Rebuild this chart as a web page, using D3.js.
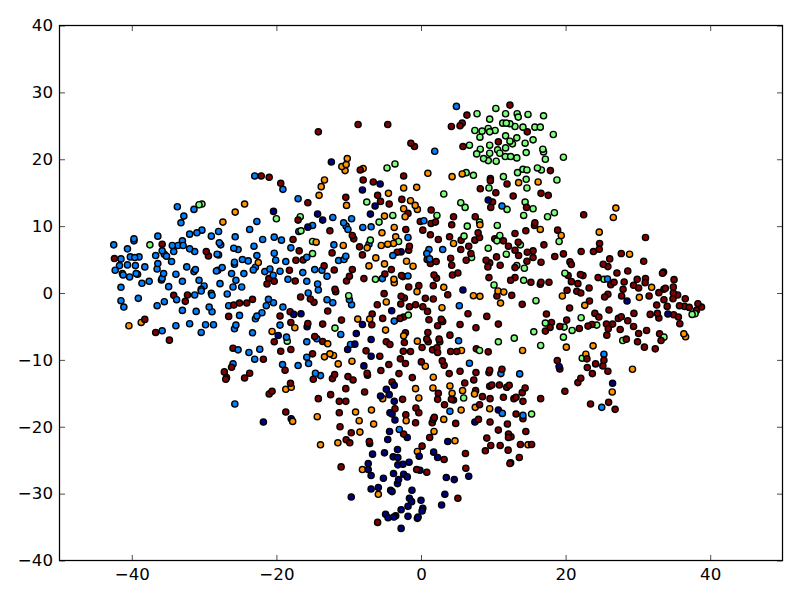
<!DOCTYPE html>
<html><head><meta charset="utf-8">
<script src="https://cdnjs.cloudflare.com/ajax/libs/d3/7.8.5/d3.min.js"></script>
<style>html,body{margin:0;padding:0;background:#fff}svg{display:block}</style></head>
<body><svg id="c" width="800" height="600"></svg>
<script>
const xTicks=[-40,-20,0,20,40];
const yTicks=[-40,-30,-20,-10,0,10,20,30,40];
const classColors=["#00007f","#007fff","#7dff7a","#ff9400","#7f0000"];
const class0=[[-21.8,-19.3],[-12.4,19.6],[-5.65,16.3],[-8.1,15.4],[-6.35,13],[-20.4,12.2],[-14.3,11.8],[-13.6,10.9],[-7,11.8],[-15.65,9.85],[-2.75,6.15],[-16.6,-3.1],[-17.6,-3.2],[-15.75,-5.05],[-19.75,-6.35],[-8.1,-4.7],[-4.05,-2.65],[-8.95,-6.05],[-6.9,-6.95],[-9.15,-7.65],[-10.15,-8.45],[-6.9,-9.45],[-7.9,-10.9],[-3.7,-13.8],[-4.8,-14.4],[-4.4,-15.2],[-5.6,-15.4],[-3.7,-16.2],[-4.3,-17.9],[-4,-18.1],[-3.6,-19],[-4.35,-20.7],[-1.9,-21.6],[-4.6,-21.9],[-17.95,-18.8],[-3.25,-23.4],[-6.7,-24.1],[-5.05,-23.9],[-3.85,-24.5],[-3.2,-24.6],[-0.25,-24.4],[-7.3,-25.5],[-7.3,-26.4],[-6.9,-27.3],[-3.2,-25.7],[-2.5,-25.6],[-1.65,-25.3],[-3.8,-27],[-2.4,-27.1],[-1.9,-27.5],[-5.2,-27.7],[-3.1,-27.9],[-3.25,-28.5],[-6.9,-29.3],[-5.9,-29.1],[-9.65,-30.5],[-4.2,-29.5],[-4,-29.7],[-1.25,-29.5],[-1.6,-30.7],[-1.3,-31.2],[0,-31],[-1.8,-31.9],[-2.75,-32.4],[0.25,-32.2],[0.15,-32.6],[-4.9,-33.1],[-4.55,-33.6],[-3.75,-33.5],[-3.5,-33.3],[-1.8,-33.4],[-0.4,-33.5],[-0.5,-33.7],[-2.75,-35.2],[3.5,-27.6],[4.6,-27.9],[6.6,-27.4],[3.3,-30.1],[2.85,-31.7],[-0.15,-26.5],[5.8,0.45],[4.5,-16],[10.7,-17.5],[7.45,-19.3],[3.7,-22.2],[1.75,-23.8],[2.3,-24.6],[9.3,13.9],[28.5,-1.2],[34.15,-3.15],[19.1,-11],[26.5,-13.5]];
const class1=[[-23,17.5],[-33.7,12.9],[-31.4,12.5],[-32.8,11.5],[-33.2,10.5],[-22.7,10.7],[-23.7,9.5],[-30.3,9.4],[-31,9],[-32,8.8],[-28,9.2],[-29,8.5],[-25.7,8.4],[-21.9,8],[-36.4,8.5],[-39.7,8.1],[-39.7,7.8],[-42.5,7.2],[-40.6,6.6],[-34.4,7.1],[-33.6,7.1],[-32.9,7.1],[-33,7.8],[-27.9,7.5],[-27.7,7.2],[-23.1,7],[-32,6.6],[-31.3,6.2],[-25.9,6.7],[-25.3,6.5],[-35.8,6.3],[-34.2,6.2],[-36.7,5.6],[-35.5,5.8],[-35.2,5.5],[-28.2,5.8],[-28,5.7],[-22.7,5.6],[-40.2,5.4],[-39.6,5.3],[-39,5.4],[-41.5,5.1],[-34.5,4.7],[-36.4,4.4],[-41.7,4.1],[-40.6,4.2],[-39.5,4.1],[-38.2,3.9],[-42.3,3.4],[-36.5,3.6],[-32.4,3.9],[-31.2,3.5],[-31.4,3.2],[-33.9,2.8],[-35.6,2.9],[-41.3,2.9],[-41.2,2.7],[-39.4,2.9],[-39.2,2.8],[-40.3,2.4],[-35.8,2.2],[-35.9,1.95],[-37.6,1.75],[-38.6,1.45],[-33,1.75],[-30.7,1.9],[-30,1.05],[-30.4,0.55],[-34.9,0.95],[-41.5,0.85],[-27.5,3.8],[-28.3,3.3],[-28.1,3.4],[-25.8,4.6],[-25.8,4.3],[-24.7,5],[-23.9,4.8],[-22.9,3.85],[-23.2,3.45],[-20.9,3.6],[-21.6,3.2],[-26.2,2.9],[-24.5,2.9],[-25.6,1.9],[-27.8,1.4],[-26,0.9],[-24.8,0.9],
[-41.5,-1.15],[-41.1,-2.1],[-39.1,-0.8],[-36.5,-1.9],[-35.5,-1.3],[-33.8,-1],[-31.3,-0.3],[-30.4,0.3],[-29,-0.05],[-28.9,-0.35],[-26.8,-0.15],[-33,-2.6],[-31.1,-2.75],[-29.3,-2.1],[-28.9,-2.8],[-26.6,-1.9],[-21.4,-1.9],[-21.1,-0.95],[-22,-2.95],[-25.1,-3.35],[-22.7,-3.45],[-22.9,-3.85],[-33.9,-4.9],[-32,-4.6],[-35.8,-5.65],[-29.8,-4.75],[-28.7,-4.75],[-30.4,-5.9],[-25.6,-4.8],[-25.8,-5.35],[-23.3,-5.95],[-25.3,-8.5],[-23.8,-8.9],[-22.3,-8.4],[-23,-9.9],[-26,-10.6],[-25.75,-16.6],
[-17,14.1],[-19.1,15.5],[-12.2,11.3],[-9.6,11.1],[-10.7,10.5],[-10.35,10],[-10.1,9.5],[-15,10.1],[-16.9,9.2],[-8.05,9.8],[-6.9,9.9],[-19.3,7.9],[-20.3,8.35],[-18,6.75],[-20.3,5.95],[-20.1,4.9],[-18.7,4.7],[-15.8,5.35],[-12.05,7.2],[-7.2,7.3],[-1.8,8.3],[-3.9,5.6],[-10.4,5.5],[-10.65,5],[-11.4,4.85],[-14.7,3.5],[-13.7,3.4],[-16.35,3.05],[-19.5,3.25],[-20.45,2.65],[-13,2.5],[-18.4,2.05],[-15.8,1.75],[-14.3,1.35],[-5.35,2.15],[-1.8,2.55],
[-15.6,0],[-14.2,0.45],[-13,-1],[-12.2,-1.45],[-9.9,-1],[-9.6,-1.75],[-19.1,-2.1],[-20.4,-1.45],[-19.5,-4.8],[-18.6,-6.6],[-15.8,-7.3],[-14.4,-6.85],[-11.1,-6.2],[-9.75,-7.7],[-15.8,-9.6],[-15.55,-10.55],[-19.15,-10.7],[-17,-10.85],[-14.6,-12],[-13.9,-12.35],[-3.7,-4.2],[-3,-20.4],
[5.3,-1.9],[5.2,-7.15],[6.7,-10.5],[11.05,-12.05],[13.65,-12.1],[4,-17.7],[11.25,-18],[14.1,-18.3],[4.9,27.9],[1.9,21.2],[11.2,13],[0.4,10.8],[1.1,6.5],[0.8,5.9],[3,6.5],[1.2,5.1],[25.8,2.1],[25.3,-9.15],[25,-17.1]];
const class2=[[-30.7,13.2],[-30.3,13.3],[-37.5,7.2],[-3.6,19.3],[-4.7,18.7],[-7.5,13.6],[-16.7,11.4],[-20,11.1],[-5.8,10.6],[-3.9,11.6],[-16.6,9.3],[-15,7.7],[-7,7.9],[-3.1,7.7],[-15,5.9],[-6.3,2.05],[-10,-0.4],[-11.9,-5.25],[-18.5,-7.2],[-1.75,-3.3],[15.9,-1.15],[17.2,-4.5],[15.6,-5.8],[12.9,-6.75],[10.7,-7.3],[16.55,-7.85],[8.1,-8.6],[5.9,-15.7],[15.3,-18.1],
[10.35,27.6],[7.75,26.8],[9.5,26],[11.7,26.8],[13.3,26.8],[13.45,26.3],[14.8,26.7],[16.95,26.5],[11.3,25.4],[11.8,25.4],[12.3,25.3],[13,24.9],[14.1,24.8],[15.75,24.8],[16.5,24.8],[7.45,24.3],[8.45,24.2],[9.3,24.6],[9.5,24.1],[10.25,24.3],[8.15,23.3],[11.7,23.5],[18.3,23.7],[13.25,23.2],[12.3,22.7],[12.65,22.3],[14.4,22.4],[15.5,22.9],[6.7,22.1],[9.5,22.1],[8.2,21.5],[11.7,21.7],[10.6,21.4],[10.9,20.9],[9.5,20.9],[7.7,20.8],[14.55,21],[16.85,21.5],[16.95,21.1],[11.65,20.4],[12.4,20.4],[13.25,20.2],[8.65,20.1],[9.3,19.8],[10.4,19.7],[17.2,20],[19.7,20.3],[16.1,18.7],[16.65,18.4],[14.1,18.5],[14.65,18.4],[13.35,18],[6.25,18],[7.25,17.6],[11.4,17.4],[14.55,17],[18.8,16.9],[14.65,15.7],[9.4,15.7],[3.15,14.8],[5.5,13.5],[6.1,12.8],[11.9,12.5],[14.4,13.6],[15.5,12.6],[14.2,11.6],[17.5,11.4],[2.2,11.6],[8.1,10.6],[6.4,10],[10.55,10.1],[5.95,8.5],[10.9,8.6],[10.5,7.8],[13.75,7.2],[9.3,6.7],[11.8,5.8],[7,5.3],[13.25,4.1],[14.3,3.7],[14.2,1.9],[10.1,1.2],
[18.45,12],[19.1,7.7],[19.9,2.95],[25.3,2.05],[22.15,-3.7],[19.8,-5.1],[20.9,-5.6],[24.3,-4.8],[19.7,-6.6],[27.9,-7.1],[33.6,-6.6],[37.9,-3.1],[37.5,-3.2],[22.3,-9.75]];
const class3=[[-24.4,13.3],[-25.7,12.1],[-27.4,10.6],[-22.5,4.55],[-40.4,-4.9],[-38.7,-4.4],[-10.2,20.1],[-10.35,19.2],[-10.95,18.9],[-10.5,18.3],[-8,18.6],[-13.35,16.9],[-13.8,15.9],[-14.1,14.6],[-10.3,13.1],[-4.5,14.9],[-2.4,15.7],[-0.6,15.8],[-1.45,13.8],[-0.8,13.1],[-0.5,12.5],[-2.4,12.6],[-2.2,11.4],[-5.05,11.5],[-3.7,9.8],[-5.4,9],[-3.5,8.4],[-3.8,7.4],[-4.6,7.3],[-5.5,7.1],[-7.45,6.75],[-10.75,7.1],[-14.5,7.6],[-6.25,5.25],[-2,4.75],[-1.1,4],[-5.05,4.35],[-7.2,4.05],[-3.75,2.05],[-3.7,1.55],
[-4.8,-1.35],[-0.55,0.2],[-8.75,-3.9],[-7.1,-3.9],[-20.6,-5.75],[-17.45,-5.2],[-4.9,-5.55],[-2.4,-6.4],[-0.5,-7.2],[-12.9,-7.6],[-12.6,-9.1],[-12.1,-9.35],[-13.35,-9.55],[-11.45,-10.6],[-9.55,-10.2],[-18.7,-14.4],[-17.95,-14.1],[-5.3,-15.8],[-0.75,-14.3],[-0.3,-15.7],[-9.05,-17.8],[-6.85,-17.5],[-8.55,-19.1],[-6.55,-19.6],[-14.35,-18.5],[-17.75,-19.2],[-8.45,-20.8],[-11.5,-22.4],[-13.9,-22.7],[-2.05,-19.1],[-0.5,-23.7],[-8.1,-26.4],[-5.9,-30.1],
[7.25,-0.4],[8.15,-0.5],[11.45,0.15],[10.65,0.3],[11,-1.5],[2.9,-2.2],[5.6,-8.6],[14.05,-8.6],[0.6,-10.95],[1.7,-12.6],[1.65,-14.2],[4,-13.9],[5.75,-14.6],[4.3,-15],[7.4,-15.1],[7.5,-17.1],[5.55,-17.5],[9.5,-17.3],[3.15,-18.9],[1.8,-20.7],[4.7,-22.1],[14.8,-22.7],[0.95,17.9],[4.3,17.4],[5.7,17.8],[13.5,16.5],[16.2,16.6],[8.15,10.2],[4.5,7.4],[16.5,9.5],[3.15,0.85],
[26.95,12.7],[26.6,11.3],[24.65,9.1],[19.4,8.6],[28.85,5.8],[31.9,0.85],[19.55,-0.45],[30.2,-0.65],[22.65,-1.85],[36.35,-6.1],[36.6,-6.55],[23.8,-7.9],[20.1,-8.1],[22.8,-9.15],[29.25,-11.4],[26.45,-14.8]];
const class4=[[-22.1,17.5],[-21,17.3],[-35.8,7.3],[-42.4,5.15],[-29.7,6.2],[-29.4,5.55],[-21.05,2.15],[-21.3,1.35],[-34.2,-0.35],[-32.3,-0.3],[-32.6,-1.25],[-25.9,-1.8],[-25.1,-1.5],[-24.1,-1.5],[-23.3,-0.95],[-26.6,-3.5],[-38.2,-3.95],[-36.7,-5.9],[-34.8,-7.05],[-26,-8.25],[-21.8,-9.9],[-26.2,-11.1],[-27.2,-11.8],[-26.9,-12.65],[-27,-12.9],[-23.7,-12],[-24.4,-12.7],[-21,-15.1],
[-8.7,25.2],[-4.6,25.2],[-14.2,24.1],[-1.4,22.4],[-0.9,21.9],[-19.4,16.4],[-8.4,18.4],[-8,16.9],[-6.6,16.6],[-2.4,17.5],[-6,14.6],[-5.6,13.7],[-4.4,13.3],[-2.65,14],[-10.4,14.3],[-15.65,13.5],[-1.8,11.9],[-17,10.9],[-0.1,10.7],[-12.6,9.3],[-2.1,9.5],[-17.7,8],[-9.5,8.6],[-9.3,8.1],[-8.5,6.9],[-16.85,6.3],[-12.3,6],[-8.1,5.7],[-17.3,4.9],[-16.3,4.95],[-1.6,7],[-1.7,6.4],[-3.3,6.1],[-18.2,3.4],[-13.4,4.05],[-12,3.45],[-9.5,3.5],[-9.9,2.5],[-10.3,1.8],[-4.1,3.5],[-5,2.85],[-7.9,2.15],[-2.5,2.45],[-2.7,2.6],[-20.3,1.75],[-17.4,1.8],[-1.7,0.9],[-0.3,1.1],[-11.9,0.55],
[-16.65,-0.6],[-15.3,-0.9],[-14.8,-1.4],[-11.8,0.2],[-5.1,-0.1],[-6.05,-1.75],[-2.75,-0.5],[-2.3,-0.75],[-2.8,-1.65],[-1.6,-2.05],[-0.75,-1.75],[-18.1,-2.8],[-19.5,-3.45],[-12.9,-2.7],[-6.75,-3.15],[-5.3,-3.8],[-2.9,-3.8],[-2.4,-3.6],[-11,-4.05],[-6.8,-4.75],[-13.6,-4.65],[-18,-4.4],[-15.65,-4.55],[-14.7,-6.5],[-13.6,-7.25],[-2.15,-5.95],[-2.3,-7.4],[-4.8,-7.3],[-4.3,-7.7],[-20.3,-7.3],[-19.4,-8.7],[-18,-8.45],[-15,-9.1],[-7.6,-8.65],[-5.7,-9.45],[-2.45,-8.7],[-1.45,-8.75],[-2.85,-9.85],[-2.15,-10.55],[-4.45,-10.7],[-18.8,-11.55],[-5.55,-11.6],[-3.05,-12.05],[-7.45,-12],[-7.4,-12.3],[-1.2,-12.65],[-14.9,-12.9],[-11.95,-12.2],[-12.25,-12.8],[-10.1,-12.5],[-9.4,-13],[-18.05,-13.5],[-20.6,-14.7],[-10.4,-14.3],[-4,-13.3],[-7.8,-14.8],[-12.5,-15.2],[-14.2,-15.8],[-11.3,-16.2],[-10.4,-16.2],[-2.55,-15.9],[-3.6,-17.3],[-0.7,-17.2],[-0.3,-17.9],[-18.7,-17.8],[-11.3,-17.9],[-2.1,-18.2],[-0.75,-19.4],[-11.2,-20],[-9.65,-20.9],[-2.4,-21.1],[-10.35,-21.95],[-9.85,-22.4],[-7.15,-22.2],[-7.1,-22.5],[-11.05,-26],[-0.6,-26.4],[5.1,-30.7],[-6,-34.3],
[3.7,-0.25],[1.7,-0.9],[0.6,-0.8],[10.5,-0.45],[12.55,-0.35],[14,-1.7],[0.25,-2.05],[0.9,-2.75],[6.5,-3.1],[9.1,-3.5],[1.1,-4],[2.8,-3.95],[3,-4.25],[2.3,-4.9],[5.4,-4.7],[7.6,-5.2],[10.7,-4.65],[17.35,-3.15],[17.2,-5.7],[17.85,-5.15],[0.95,-5.9],[4,-6.3],[2.5,-6.9],[0.8,-6.9],[1,-7.3],[2.6,-7.3],[2.2,-8.2],[0.15,-8.15],[1.6,-8.5],[2.3,-8.9],[4.1,-8.75],[4.95,-8.75],[7.65,-8.35],[9.3,-8.8],[2.95,-10.15],[3.2,-10.8],[0.05,-10.3],[3.9,-12.05],[5.4,-11.7],[7.6,-11.9],[9.5,-11.55],[9.4,-11.9],[11.2,-11.4],[7.3,-13],[6.05,-13.45],[9.8,-13.75],[9.5,-13.95],[10.85,-13.75],[11.85,-14.1],[12.2,-13.8],[14.4,-14.2],[14,-14.9],[7.55,-14.6],[2.4,-15],[2.3,-15.9],[4.2,-15.9],[8.5,-15.5],[9.55,-15.8],[11.4,-15.6],[12.85,-15.8],[13.15,-15.6],[14.1,-16.2],[16.55,-15.8],[3.25,-16.7],[8.1,-16.7],[13.15,-18.1],[14.1,-18.8],[7.95,-18.9],[1.85,-18.6],[1.7,-18.9],[1.55,-19.4],[4.8,-19.5],[9.55,-19.3],[11.95,-19.6],[10.7,-20.5],[14.5,-20.7],[12.1,-21.1],[12.1,-21.6],[12.45,-21.5],[9.1,-21.7],[1.2,-21.6],[9.65,-22.8],[10.95,-22.8],[13.75,-22.65],[15.3,-22.65],[0.15,-22.9],[8.9,-23.6],[12.05,-23.5],[6.15,-24],[13.6,-24.6],[12.4,-25.4],[12.3,-25.5],[3.2,-24.9],[6.2,-26.2],[0.8,-26.8],
[12.3,28.1],[6.35,26.6],[4.2,24.9],[5.4,25],[5.7,25.4],[14.7,24.1],[5.8,21.9],[10.7,22.6],[17.9,18.3],[9.6,17.1],[9.6,16.8],[8.2,15.6],[11.9,16.3],[10.35,15],[12.75,14.5],[16.6,14.9],[17.6,14.6],[9.9,13.6],[9.65,12.8],[14.6,12.8],[1.4,12.4],[4.5,11.4],[7.5,11.4],[1.4,10.4],[2,10.6],[4.25,10.2],[15.75,10.5],[15.7,10.1],[0.25,9.4],[1.3,8.7],[2.4,8],[3.95,8.4],[5.55,7.9],[7.9,9],[8.1,8.3],[7.45,7.9],[13,8.9],[14.5,9.3],[10.2,8.1],[11.4,7.8],[13.45,7.6],[12.1,7],[6.6,7],[5.5,6.5],[17,7.2],[13,6.4],[15.5,6.3],[14.7,6.1],[6.9,5.9],[10.45,5.4],[13.5,5.6],[15.5,5.3],[4.1,5.2],[6.25,4.9],[9,4.9],[2.1,4.7],[0.85,5],[1.3,4.4],[4.25,4.15],[9.5,4.5],[9.25,3.9],[10.95,4.15],[14.65,4.75],[16.6,4.6],[13,3.8],[4.35,2.7],[5.1,3],[1.8,2.7],[2.15,2.2],[9.4,2.3],[12.4,1.9],[13,2.3],[15.2,1.6],[16.6,1.6],[16.5,1.3],[17.7,1.6],[1.7,1.1],
[22.5,11.7],[18.9,9.4],[31.05,8.3],[24.7,7.4],[24.65,6.55],[23.85,6.2],[22.15,6.2],[19.7,5.85],[18.5,5.45],[27.7,5.9],[26.1,5.1],[20.6,4.65],[20.8,4.25],[25.2,4.3],[25.85,3.95],[30.8,4.75],[27.1,3],[28.6,3.3],[33.55,3.15],[33.4,2.95],[20.35,2.6],[22.05,2.75],[22.4,2.6],[24.5,2.3],[35,2],[20.8,1.7],[21.7,1.4],[26.25,1.25],[26.7,1.6],[28.1,1.65],[29.4,1.15],[29.9,2.05],[31.05,2.15],[31,1.55],[30.1,0.75],[23.25,0.75],[20.2,0.4],[21.55,0.25],[22.1,0],[27.95,0.55],[33.8,0.7],[33.6,0.55],[34.9,0.9],[32.9,0.05],[34.9,0],[35.5,-0.3],[25.85,-0.2],[25.4,-0.6],[27.75,-0.45],[31.55,-0.45],[33.6,-1],[34.85,-0.85],[36.55,-0.85],[23.3,-1.2],[32.6,-1.8],[34.05,-2],[35.75,-1.9],[36.45,-2],[37.1,-2.15],[38.3,-1.6],[38.8,-2.1],[38.1,-2.6],[20.55,-2.25],[26,-2.55],[24.05,-3.05],[24.6,-3.6],[29.45,-3.05],[31.7,-3.2],[32.7,-3.05],[32.9,-3.75],[34.95,-3.25],[35.6,-3.6],[35.8,-4.6],[27.7,-3.55],[27.3,-3.8],[28.6,-4.15],[20.15,-4.05],[18.05,-4.4],[19.2,-5],[21.9,-5.3],[23.1,-4.95],[23.65,-4.7],[25.65,-4.65],[26.5,-4.65],[25.9,-5.35],[29.4,-5],[27.55,-5.45],[31.2,-5.6],[30.1,-6.05],[25.7,-6.3],[33,-6.1],[33.2,-7.1],[28.4,-6.9],[29.95,-7.3],[30.9,-8.1],[32.4,-8.35],[18.85,-10.1],[19.2,-11.35],[22.95,-9.85],[25.3,-10.05],[24.15,-10.6],[25.15,-10.9],[23,-11.15],[25.85,-11.7],[23.7,-12.05],[22.1,-12.75],[21.7,-13.4],[19.9,-14.7],[23.45,-16.6],[25.95,-16.35],[26.85,-17.4]];

const svg=d3.select("#c");
const L=59.5,R=782.5,T=25.5,B=560.5;
const x=d3.scaleLinear().domain([-50,50]).range([L,R]);
const y=d3.scaleLinear().domain([-40,40]).range([B,T]);
const fmt=d3.format("d");
const groups=[class0,class1,class2,class3,class4];
const points=[];
groups.forEach((g,i)=>g.forEach(p=>points.push({x:p[0],y:p[1],c:i})));
// stable, value-derived draw order so the classes interleave
points.sort((a,b)=>((a.x*37+a.y*53)%7+7)%7-((b.x*37+b.y*53)%7+7)%7);
svg.append("g").selectAll("circle").data(points).join("circle")
  .attr("cx",d=>x(d.x)).attr("cy",d=>y(d.y)).attr("r",3.1)
  .attr("fill",d=>classColors[d.c]).attr("stroke","#000").attr("stroke-width",1.39);
function style(g){
  g.select(".domain").remove();
  g.selectAll("line").attr("stroke","#000").attr("stroke-width",0.7);
  g.selectAll("text").attr("font-family","'DejaVu Sans'").attr("font-size",16.67).attr("fill","#000");
}
const ax=(gen,tx,ty,lab)=>{const g=svg.append("g").attr("transform",`translate(${tx},${ty})`).call(gen);style(g);if(!lab)g.selectAll("text").remove();return g;};
ax(d3.axisBottom(x).tickValues(xTicks).tickFormat(fmt).tickSizeInner(-5.5).tickPadding(7.7),0,B,true);
ax(d3.axisTop(x).tickValues(xTicks).tickSizeInner(-5.5),0,T,false);
ax(d3.axisLeft(y).tickValues(yTicks).tickFormat(fmt).tickSizeInner(-5.5).tickPadding(6.5),L,0,true);
ax(d3.axisRight(y).tickValues(yTicks).tickSizeInner(-5.5),R,0,false);
svg.append("rect").attr("x",L).attr("y",T).attr("width",R-L).attr("height",B-T).attr("fill","none").attr("stroke","#000").attr("stroke-width",1.25);
</script></body></html>
